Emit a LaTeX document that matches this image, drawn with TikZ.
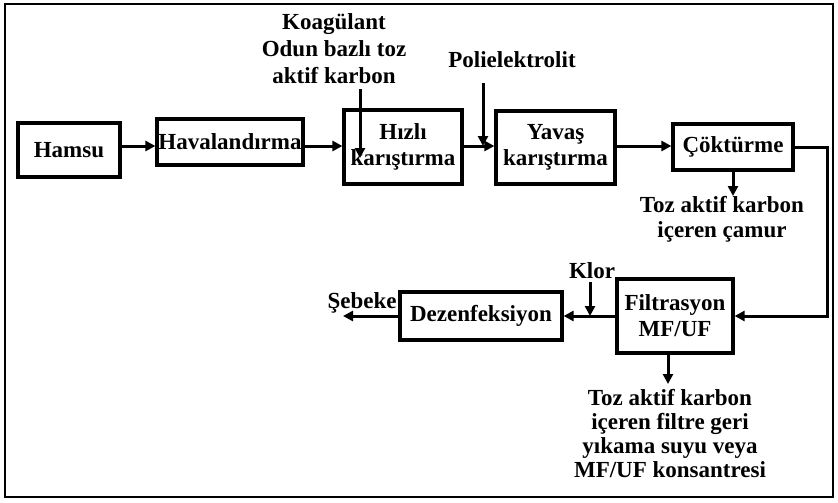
\documentclass[tikz,border=0pt]{standalone}
\usepackage{fontspec}
\setmainfont{Liberation Serif}
\usetikzlibrary{arrows.meta}
\begin{document}
\begin{tikzpicture}[x=1pt,y=-1pt,
  box/.style={draw,line width=3.2pt,inner sep=0pt,align=center,font=\fontsize{23}{26}\selectfont\bfseries},
  lbl/.style={inner sep=0pt,align=center,anchor=base,font=\fontsize{23}{27}\selectfont\bfseries},
  arr/.style={line width=3pt,-{Triangle[length=10pt,width=10pt]}}]
\useasboundingbox (0,0) rectangle (838,503);
\draw[line width=2.8pt] (5,4) rectangle (833,497);
% boxes
\node[box,minimum width=102pt,minimum height=54pt] (hamsu) at (69,150) {Hamsu};
\node[box,minimum width=146pt,minimum height=46pt] (hav) at (230,142) {Havalandırma};
\node[box,minimum width=118pt,minimum height=74pt] (hizli) at (403,147) {Hızlı\\karıştırma};
\node[box,minimum width=119pt,minimum height=73pt] (yavas) at (555.5,147.5) {Yavaş\\karıştırma};
\node[box,minimum width=120pt,minimum height=46pt] (cok) at (733,147) {Çöktürme};
\node[box,minimum width=116pt,minimum height=74pt] (filt) at (675,316) {Filtrasyon\\MF/UF};
\node[box,minimum width=162pt,minimum height=48pt] (dez) at (481,316) {Dezenfeksiyon};
% labels (base = baseline of last line)
\node[lbl] (koag) at (334,83) {Koagülant\\Odun bazlı toz\\aktif karbon};
\node[lbl] (poli) at (512,68) {Polielektrolit};
\node[lbl,font=\fontsize{23}{25}\selectfont\bfseries] (camur) at (722,237) {Toz aktif karbon\\içeren çamur};
\node[lbl] (klor) at (592,278) {Klor};
\node[lbl] (sebeke) at (362,308) {Şebeke};
\node[lbl,font=\fontsize{23}{24}\selectfont\bfseries] (geri) at (670,477) {Toz aktif karbon\\içeren filtre geri\\yıkama suyu veya\\MF/UF konsantresi};
% connectors
\coordinate (yl) at (0,146);
\draw[arr] (hamsu.east |- yl) -- (hav.west |- yl);
\draw[arr] (hav.east |- yl) -- (hizli.west |- yl);
\draw[arr] (hizli.east |- yl) -- (yavas.west |- yl);
\draw[arr] (yavas.east |- yl) -- (cok.west |- yl);
\coordinate (kt) at (360,89);
\coordinate (kb) at (360,158);
\draw[arr] (kt) -- (kb);
\coordinate (pt) at (483,83);
\draw[arr] (pt) -- (pt |- yl);
\coordinate (cam) at (733,196);
\draw[arr] (cok.south) -- (cam);
\coordinate (rc) at (827,0);
\draw[arr] (cok.east) -- (cok.east -| rc) -- (rc |- filt.east) -- (filt.east);
\draw[arr] (filt.west) -- (dez.east);
\coordinate (kl) at (590,282);
\draw[arr] (kl) -- (kl |- dez.east);
\coordinate (seb) at (343,316);
\draw[arr] (dez.west) -- (seb);
\coordinate (fd) at (668,384);
\draw[arr] (filt.south -| fd) -- (fd);
\end{tikzpicture}
\end{document}
